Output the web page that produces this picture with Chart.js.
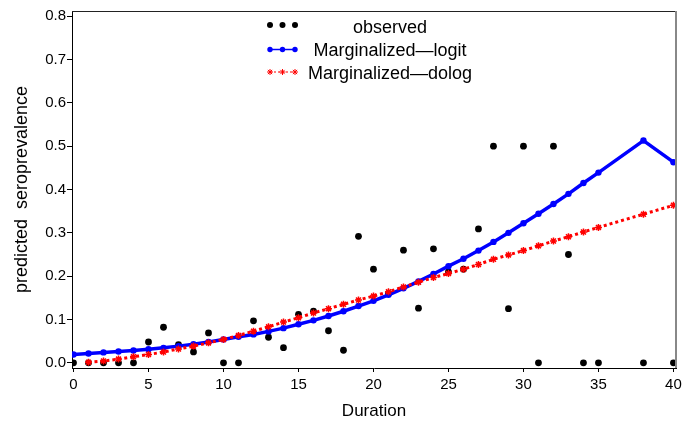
<!DOCTYPE html>
<html>
  <head>
    <script src="https://cdn.jsdelivr.net/npm/chart.js@4.4.1/dist/chart.umd.min.js"></script>
    <style>
      body { margin: 0; background: #fff; }
    </style>
  </head>
  <body>
    <canvas id="canvas" width="696" height="427"></canvas>
    <script>
      // durations with an observation / fitted value
      const durations = [0, 1, 2, 3, 4, 5, 6, 7, 8, 9, 10, 11, 12, 13, 14, 15, 16, 17, 18, 19, 20,
        21, 22, 23, 24, 25, 26, 27, 28, 29, 30, 31, 32, 33, 34, 35, 38, 40];
      const observed = [0, 0, 0, 0, 0, 0.048, 0.082, 0.042, 0.025, 0.069, 0, 0, 0.097, 0.059, 0.035,
        0.112, 0.119, 0.074, 0.029, 0.292, 0.216, 0.16, 0.26, 0.126, 0.263, 0.21, 0.216, 0.309, 0.5,
        0.125, 0.5, 0, 0.5, 0.25, 0, 0, 0, 0];
      const logit = [0.019, 0.0215, 0.024, 0.026, 0.0285, 0.0315, 0.0345, 0.0385, 0.043, 0.048, 0.054,
        0.06, 0.0655, 0.0725, 0.08, 0.089, 0.098, 0.108, 0.119, 0.131, 0.143, 0.157, 0.172, 0.188,
        0.205, 0.223, 0.24, 0.259, 0.279, 0.3, 0.322, 0.344, 0.3665, 0.39, 0.415, 0.439, 0.513, 0.463];
      // dolog has no value at duration 0
      const dologDurations = durations.slice(1);
      const dolog = [0.001, 0.004, 0.0085, 0.014, 0.019, 0.025, 0.032, 0.0385, 0.046, 0.054, 0.063,
        0.073, 0.083, 0.094, 0.104, 0.115, 0.125, 0.135, 0.145, 0.154, 0.164, 0.175, 0.186, 0.197,
        0.206, 0.216, 0.227, 0.239, 0.249, 0.259, 0.27, 0.281, 0.291, 0.302, 0.3125, 0.343, 0.3635];
      const xTicks = [0, 5, 10, 15, 20, 25, 30, 35, 40];
      const yTicks = [0, 0.1, 0.2, 0.3, 0.4, 0.5, 0.6, 0.7, 0.8];
      const legendLabels = ['observed', 'Marginalized\u2014logit', 'Marginalized\u2014dolog'];

      const FONT = 'Liberation Sans, Arial, sans-serif';

      const pts = (xs, ys) => xs.map((x, i) => ({ x: x, y: ys[i] }));

      // box around the plot + SAS-like legend
      const decor = {
        id: 'decor',
        afterDraw(chart) {
          const { ctx, chartArea: a } = chart;
          ctx.save();
          ctx.lineWidth = 1;
          ctx.strokeStyle = '#222';
          ctx.beginPath();
          ctx.moveTo(a.left, a.top + 0.5);
          ctx.lineTo(a.right, a.top + 0.5);
          ctx.stroke();
          ctx.strokeStyle = '#888';
          ctx.lineWidth = 2;
          ctx.beginPath();
          ctx.moveTo(a.right, a.top);
          ctx.lineTo(a.right, a.bottom);
          ctx.stroke();

          const sx = [270, 282.5, 295];
          const symY = [25, 49.5, 72];
          const textY = [33, 56, 79];
          // row 1: black dots
          ctx.fillStyle = '#000';
          sx.forEach((x) => {
            ctx.beginPath();
            ctx.arc(x, symY[0], 3, 0, Math.PI * 2);
            ctx.fill();
          });
          // row 2: blue line with dots
          ctx.strokeStyle = '#0000ff';
          ctx.fillStyle = '#0000ff';
          ctx.lineWidth = 1.5;
          ctx.beginPath();
          ctx.moveTo(sx[0], symY[1]);
          ctx.lineTo(sx[2], symY[1]);
          ctx.stroke();
          sx.forEach((x) => {
            ctx.beginPath();
            ctx.arc(x, symY[1], 2.7, 0, Math.PI * 2);
            ctx.fill();
          });
          // row 3: red dotted with stars
          ctx.strokeStyle = '#ff0000';
          ctx.lineWidth = 1;
          ctx.setLineDash([2, 2]);
          ctx.beginPath();
          ctx.moveTo(sx[0], symY[2]);
          ctx.lineTo(sx[2], symY[2]);
          ctx.stroke();
          ctx.setLineDash([]);
          sx.forEach((x) => {
            for (let k = 0; k < 4; k++) {
              const ang = (k * Math.PI) / 4;
              ctx.beginPath();
              ctx.moveTo(x - 3 * Math.cos(ang), symY[2] - 3 * Math.sin(ang));
              ctx.lineTo(x + 3 * Math.cos(ang), symY[2] + 3 * Math.sin(ang));
              ctx.stroke();
            }
          });
          ctx.fillStyle = '#000';
          ctx.font = '18px ' + FONT;
          ctx.textAlign = 'center';
          ctx.textBaseline = 'alphabetic';
          legendLabels.forEach((t, i) => ctx.fillText(t, 390, textY[i]));
          ctx.restore();
        },
      };

      new Chart(document.getElementById('canvas').getContext('2d'), {
        type: 'scatter',
        data: {
          datasets: [
            {
              label: legendLabels[2],
              data: pts(dologDurations, dolog),
              showLine: true,
              borderColor: '#ff0000',
              backgroundColor: '#ff0000',
              borderWidth: 3,
              borderDash: [3, 3],
              pointStyle: 'star',
              pointRadius: 3.5,
              pointBorderWidth: 1.5,
              order: 0,
            },
            {
              label: legendLabels[1],
              data: pts(durations, logit),
              showLine: true,
              borderColor: '#0000ff',
              backgroundColor: '#0000ff',
              borderWidth: 3.5,
              pointRadius: 3.2,
              pointBorderWidth: 0,
              order: 1,
            },
            {
              label: legendLabels[0],
              data: pts(durations, observed),
              showLine: false,
              backgroundColor: '#000',
              borderColor: '#000',
              pointRadius: 3.4,
              pointBorderWidth: 0,
              order: 2,
            },
          ],
        },
        options: {
          responsive: false,
          animation: false,
          layout: { padding: { top: 11, right: 20, left: 0, bottom: 0 } },
          plugins: { legend: { display: false }, tooltip: { enabled: false } },
          scales: {
            x: {
              type: 'linear',
              min: -0.1,
              max: 40.17,
              afterBuildTicks: (s) => { s.ticks = xTicks.map((v) => ({ value: v })); },
              afterFit: (s) => { s.height = 59; },
              grid: { drawOnChartArea: false, drawTicks: true, tickLength: 4, color: '#000' },
              border: { color: '#000', width: 1 },
              ticks: { color: '#000', font: { family: FONT, size: 15 }, padding: 4, maxRotation: 0 },
              title: {
                display: true,
                text: 'Duration',
                color: '#000',
                font: { family: FONT, size: 17 },
                padding: { bottom: 5 },
              },
            },
            y: {
              type: 'linear',
              min: -0.012,
              max: 0.812,
              afterBuildTicks: (s) => { s.ticks = yTicks.map((v) => ({ value: v })); },
              afterFit: (s) => { s.width = 72; },
              grid: { drawOnChartArea: false, drawTicks: true, tickLength: 5, color: '#000' },
              border: { color: '#000', width: 1 },
              ticks: {
                color: '#000',
                font: { family: FONT, size: 15 },
                padding: 1,
                callback: (v) => v.toFixed(1),
              },
              title: {
                display: true,
                text: 'predicted  seroprevalence',
                color: '#000',
                font: { family: FONT, size: 18 },
                padding: { top: 11 },
              },
            },
          },
        },
        plugins: [decor],
      });
    </script>
  </body>
</html>
